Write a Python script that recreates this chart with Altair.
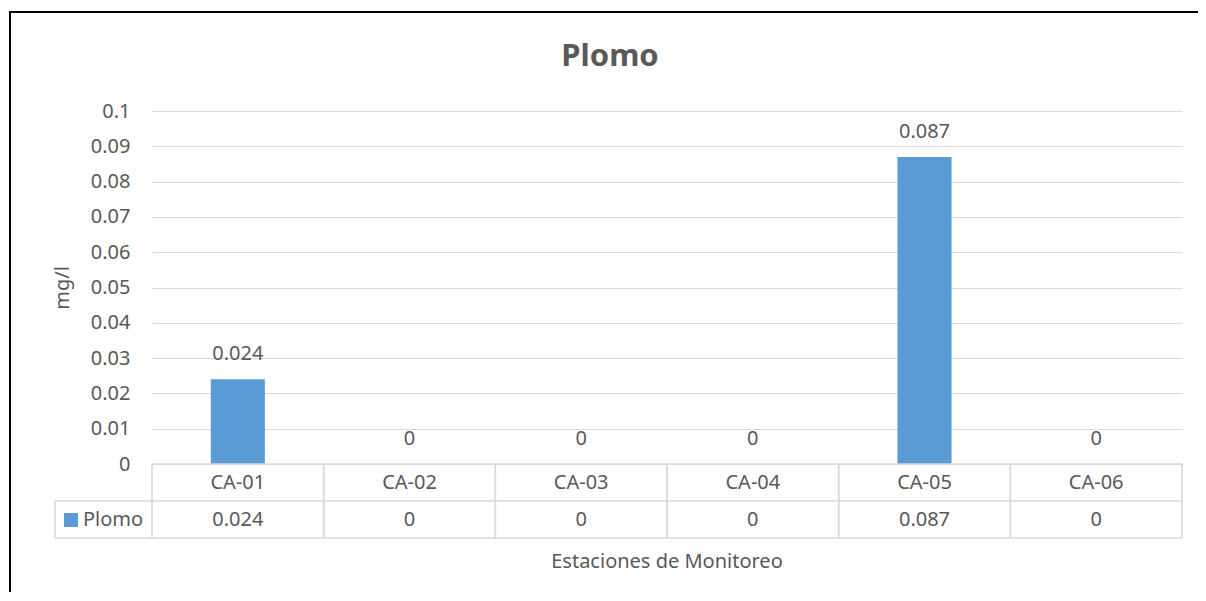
import altair as alt
import pandas as pd

stations = ["CA-01", "CA-02", "CA-03", "CA-04", "CA-05", "CA-06"]
values = [0.024, 0, 0, 0, 0.087, 0]
y_ticks = [0, 0.01, 0.02, 0.03, 0.04, 0.05, 0.06, 0.07, 0.08, 0.09, 0.1]
series_name = "Plomo"
title_text = "Plomo"
x_title = "Estaciones de Monitoreo"
y_title = "mg/l"

df = pd.DataFrame({
    "station": stations,
    "value": values,
    "label": [f"{v:g}" for v in values],
})

W, H = 1030, 353
FONT = "Noto Sans"
TXT = "#595959"
GRID = "#D9D9D9"
BLUE = "#5B9BD5"
FS = 20

xs = alt.X("station:N", sort=stations, scale=alt.Scale(paddingInner=0, paddingOuter=0), axis=None)

y_axis = alt.Axis(values=y_ticks, format="~g", ticks=False, domain=False,
                  labelOverlap=False, labelFlush=False, tickCount=11,
                  gridColor=GRID, gridWidth=1, labelPadding=22,
                  labelFont=FONT, labelFontSize=FS, labelColor=TXT,
                  title=y_title, titleFont=FONT, titleFontSize=FS,
                  titleFontWeight="normal", titleColor=TXT,
                  titleX=-90, titleY=H / 2, titleAngle=-90,
                  titleAlign="center", titleBaseline="middle")
ys = alt.Y("value:Q", scale=alt.Scale(domain=[0, 0.1], nice=False), axis=y_axis)

base = alt.Chart(df)

bars = base.mark_bar(width=alt.RelativeBandSize(0.315), color=BLUE).encode(x=xs, y=ys)

bar_labels = base.mark_text(font=FONT, fontSize=FS, color=TXT, baseline="alphabetic", dy=-19).encode(
    x=xs, y=ys, text="label:N"
)

head_text = base.mark_text(font=FONT, fontSize=FS, color=TXT, baseline="middle").encode(
    x=xs, y=alt.value(H + 19), text="station:N"
)
val_text = base.mark_text(font=FONT, fontSize=FS, color=TXT, baseline="middle").encode(
    x=xs, y=alt.value(H + 56), text="label:N"
)

vr0 = base.mark_rule(color=GRID, strokeWidth=1.5).encode(
    x=alt.X("station:N", sort=stations, bandPosition=0, axis=None),
    y=alt.value(H), y2=alt.value(H + 74),
)
vr1 = base.mark_rule(color=GRID, strokeWidth=1.5).encode(
    x=alt.X("station:N", sort=stations, bandPosition=1, axis=None),
    y=alt.value(H), y2=alt.value(H + 74),
)

one = alt.Chart(pd.DataFrame({"k": [0]}))
hr_top = one.mark_rule(color=GRID, strokeWidth=1.5).encode(x=alt.value(0), x2=alt.value(W), y=alt.value(H), y2=alt.value(H))
hr_mid = one.mark_rule(color=GRID, strokeWidth=1.5).encode(x=alt.value(-97), x2=alt.value(W), y=alt.value(H + 37), y2=alt.value(H + 37))
hr_bot = one.mark_rule(color=GRID, strokeWidth=1.5).encode(x=alt.value(-97), x2=alt.value(W), y=alt.value(H + 74), y2=alt.value(H + 74))
vr_left = one.mark_rule(color=GRID, strokeWidth=1.5).encode(x=alt.value(-97), x2=alt.value(-97), y=alt.value(H + 37), y2=alt.value(H + 74))

swatch = one.mark_rect(color=BLUE).encode(
    x=alt.value(-88), x2=alt.value(-74), y=alt.value(H + 49), y2=alt.value(H + 63)
)
leg_text = alt.Chart(pd.DataFrame({"t": [series_name]})).mark_text(
    font=FONT, fontSize=FS, color=TXT, align="left", baseline="middle"
).encode(x=alt.value(-69), y=alt.value(H + 56), text="t:N")

xt = alt.Chart(pd.DataFrame({"t": [x_title]})).mark_text(
    font=FONT, fontSize=FS, color=TXT, align="center", baseline="middle"
).encode(x=alt.value(W / 2), y=alt.value(H + 98), text="t:N")

tt = alt.Chart(pd.DataFrame({"t": [title_text]})).mark_text(
    font=FONT, fontSize=31, fontWeight="bold", color=TXT, align="center", baseline="middle"
).encode(x=alt.value(458), y=alt.value(-54), text="t:N")

frame_top = one.mark_rule(color="black", strokeWidth=2).encode(
    x=alt.value(-143), x2=alt.value(1100), y=alt.value(-99), y2=alt.value(-99)
)
frame_left = one.mark_rule(color="black", strokeWidth=2).encode(
    x=alt.value(-142), x2=alt.value(-142), y=alt.value(-100), y2=alt.value(600)
)

chart = alt.layer(
    bars, bar_labels, hr_top, hr_mid, hr_bot, vr0, vr1, vr_left,
    head_text, val_text, swatch, leg_text, xt, tt, frame_top, frame_left
).properties(
    width=W, height=H,
    autosize=alt.AutoSizeParams(type="none"),
    padding={"left": 144, "top": 103, "right": 16, "bottom": 128},
).configure_view(stroke=None)

chart.save("out.html", embed_options={"renderer": "svg", "actions": False})
